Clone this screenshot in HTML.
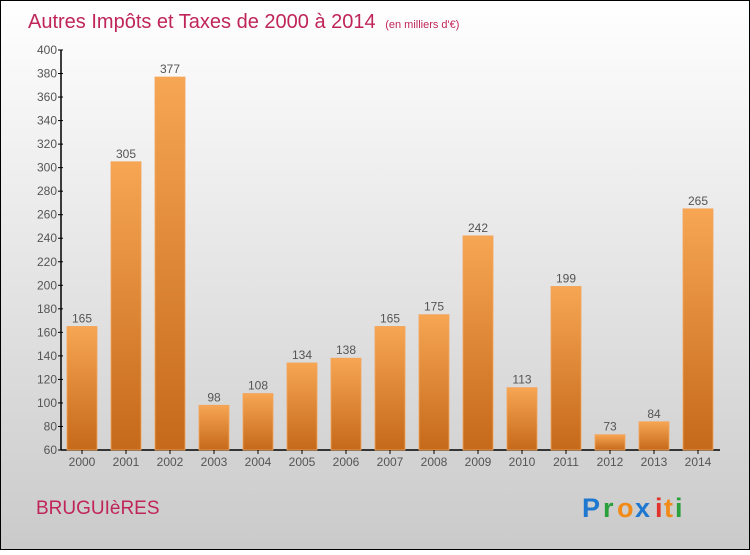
<!DOCTYPE html>
<html><head><meta charset="utf-8"><style>
html,body{margin:0;padding:0}
body{width:750px;height:550px;overflow:hidden;font-family:"Liberation Sans","DejaVu Sans",sans-serif}
</style></head><body>
<svg width="750" height="550" viewBox="0 0 750 550" xmlns="http://www.w3.org/2000/svg">
<defs>
<linearGradient id="bg" x1="0" y1="0" x2="0" y2="1"><stop offset="0" stop-color="#ffffff"/><stop offset="1" stop-color="#cacaca"/></linearGradient>
<linearGradient id="bar" x1="0" y1="0" x2="0" y2="1"><stop offset="0" stop-color="#f7a653"/><stop offset="1" stop-color="#c5691a"/></linearGradient>
</defs>
<rect x="0.5" y="0.5" width="749" height="549" fill="url(#bg)" stroke="#000"/>
<text x="28" y="28" font-size="20" fill="#c0255a">Autres Impôts et Taxes de 2000 à 2014 <tspan font-size="11" dx="4">(en milliers d'€)</tspan></text>
<g id="yaxis"></g><g id="bars"></g>
<text x="36" y="514" font-size="19" fill="#c0255a">BRUGUIèRES</text>
<g font-size="27" font-weight="bold">
<text x="582" y="517" fill="#1f78d0">P</text><text x="603" y="517" fill="#2aa03c">r</text><text x="617" y="517" fill="#f28a17">o</text><text x="635" y="517" fill="#1f78d0">x</text><text x="655" y="517" fill="#e2322c">i</text><text x="664" y="517" fill="#f28a17">t</text><text x="675" y="517" fill="#2aa03c">i</text>
</g>
</svg>
<script>
const years=["2000","2001","2002","2003","2004","2005","2006","2007","2008","2009","2010","2011","2012","2013","2014"];
const values=[165,305,377,98,108,134,138,165,175,242,113,199,73,84,265];
const yTicks=[60,80,100,120,140,160,180,200,220,240,260,280,300,320,340,360,380,400];
const NS="http://www.w3.org/2000/svg";
const y0=450,y1=50,vmin=60,vmax=400,x0=61,x1=720;
const ys=v=>y0-(v-vmin)/(vmax-vmin)*(y0-y1);
const xs=i=>82+i*44;
function mk(t,a,p){const e=document.createElementNS(NS,t);for(const k in a)e.setAttribute(k,a[k]);p.appendChild(e);return e;}
const ya=document.getElementById('yaxis');
const al=mk('line',{x1:x0,y1:y1,x2:x0,y2:y0,stroke:'#000','stroke-width':1.5},ya);


const xl=mk('line',{x1:x0,y1:y0,x2:x1,y2:y0,stroke:'#000','stroke-width':1.5},ya);


yTicks.forEach(v=>{
 mk('line',{x1:x0-3,y1:ys(v),x2:x0+2,y2:ys(v),stroke:'#000'},ya);
 const t=mk('text',{x:x0-4,y:ys(v)+4,'text-anchor':'end','font-size':12,fill:'#555'},ya);
 t.textContent=v;
 
 
});
const bg=document.getElementById('bars');
values.forEach((v,i)=>{
 const x=xs(i);
 const r=mk('rect',{x:x-15,y:ys(v),width:30,height:y0-ys(v),fill:'url(#bar)',stroke:'#f3a45a','stroke-width':0.8},bg);
 
 
 const l=mk('text',{x:x,y:ys(v)-4,'text-anchor':'middle','font-size':12,fill:'#555'},bg);
 l.textContent=v;
 
 
 mk('line',{x1:x,y1:y0,x2:x,y2:y0+4,stroke:'#000'},bg);
 const yl=mk('text',{x:x,y:y0+16,'text-anchor':'middle','font-size':12,fill:'#555'},bg);
 yl.textContent=years[i];
 
 
});
</script>
</body></html>
